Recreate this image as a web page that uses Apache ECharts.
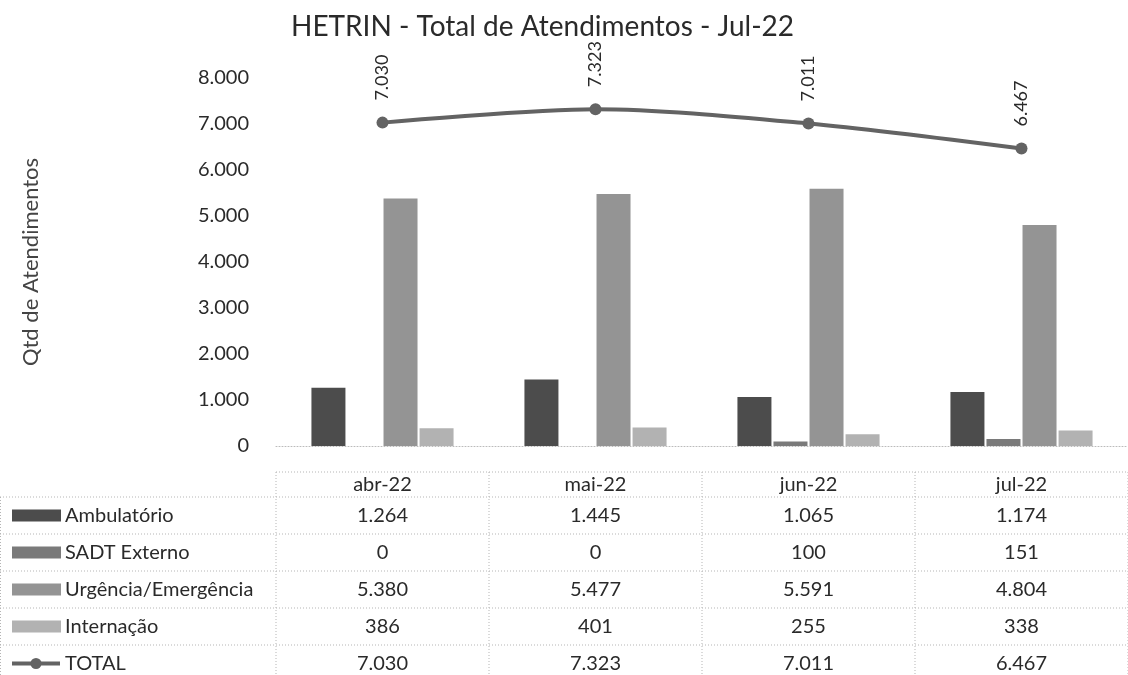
<!DOCTYPE html>
<html>
<head>
<meta charset="utf-8">
<script src="https://cdn.jsdelivr.net/npm/echarts@6/dist/echarts.min.js"></script>
<style>
  html, body { margin: 0; padding: 0; background: #fff; }
  #chart { width: 1128px; height: 675px; }
</style>
</head>
<body>
<div id="chart"></div>
<script>
// HETRIN - atendimentos por mês, barras + linha total, com tabela de dados embaixo
var categories = ["abr-22", "mai-22", "jun-22", "jul-22"];
var ambulatorio = [1264, 1445, 1065, 1174];
var sadtExterno = [0, 0, 100, 151];
var urgencia = [5380, 5477, 5591, 4804];
var internacao = [386, 401, 255, 338];
var total = [7030, 7323, 7011, 6467];
var yTicks = [0, 1000, 2000, 3000, 4000, 5000, 6000, 7000, 8000];

var FONT = "Lato, 'Noto Sans', sans-serif";

function fmt(v) {
  return String(v).replace(/\B(?=(\d{3})+(?!\d))/g, ".");
}

var seriesDefs = [
  { name: "Ambulatório", data: ambulatorio, color: "#4c4c4c" },
  { name: "SADT Externo", data: sadtExterno, color: "#7a7a7a" },
  { name: "Urgência/Emergência", data: urgencia, color: "#949494" },
  { name: "Internação", data: internacao, color: "#b2b2b2" }
];

var el = document.getElementById("chart");
var chart = echarts.init(el, null, { renderer: "canvas" });

var barSeries = seriesDefs.map(function (s) {
  return {
    name: s.name,
    type: "bar",
    data: s.data,
    barWidth: 34,
    barGap: "6%",
    itemStyle: { color: s.color },
    z: 2
  };
});

chart.setOption({
  backgroundColor: "#fff",
  animation: false,
  title: {
    text: "HETRIN - Total de Atendimentos - Jul-22",
    left: 286,
    top: 8,
    textStyle: { fontFamily: FONT, fontSize: 28, fontWeight: "normal", color: "#2a2a2a" }
  },
  grid: { left: 276, top: 78, width: 862, height: 368, containLabel: false },
  xAxis: {
    type: "category",
    data: categories,
    axisLine: { show: true, lineStyle: { color: "#bbb", type: [1, 2], width: 1 } },
    axisTick: { show: false },
    axisLabel: { show: false },
    splitLine: { show: false }
  },
  yAxis: {
    type: "value",
    min: yTicks[0],
    max: yTicks[yTicks.length - 1],
    interval: 1000,
    name: "Qtd de Atendimentos",
    nameLocation: "middle",
    nameGap: 234,
    nameTextStyle: { fontFamily: FONT, fontSize: 22, color: "#444" },
    axisLine: { show: false },
    axisTick: { show: false },
    splitLine: { show: false },
    axisLabel: {
      margin: 27,
      fontFamily: FONT,
      fontSize: 20,
      color: "#2a2a2a",
      formatter: function (v) { return fmt(v); }
    }
  },
  series: barSeries.concat([{
    name: "TOTAL",
    type: "line",
    data: total,
    smooth: 0.3,
    symbol: "circle",
    symbolSize: 12,
    lineStyle: { color: "#636363", width: 4 },
    itemStyle: { color: "#636363" },
    label: {
      show: true,
      position: "top",
      distance: 16,
      rotate: 90,
      align: "left",
      verticalAlign: "middle",
      fontFamily: FONT,
      fontSize: 18,
      color: "#2a2a2a",
      formatter: function (p) { return fmt(p.value); }
    },
    z: 5
  }])
});

// tabela de dados abaixo do gráfico
function buildTable() {
  var c0 = chart.convertToPixel({ xAxisIndex: 0 }, 0);
  var c1 = chart.convertToPixel({ xAxisIndex: 0 }, 1);
  var band = c1 - c0;
  var left = c0 - band / 2;
  var right = left + band * categories.length;
  var headTop = 472, headBot = 497, rowH = 37;
  var dash = [1, 2];
  var stroke = "#b5b5b5";
  var els = [];

  function hline(x1, x2, y) {
    els.push({ type: "line", shape: { x1: x1, y1: y, x2: x2, y2: y },
      style: { stroke: stroke, lineWidth: 1, lineDash: dash }, silent: true });
  }
  function vline(x, y1, y2) {
    els.push({ type: "line", shape: { x1: x, y1: y1, x2: x, y2: y2 },
      style: { stroke: stroke, lineWidth: 1, lineDash: dash }, silent: true });
  }
  function text(str, x, y, align) {
    els.push({ type: "text", x: x, y: y, silent: true,
      style: { text: str, fontFamily: FONT, fontSize: 20, fill: "#2a2a2a",
        align: align, verticalAlign: "middle" } });
  }

  var rows = seriesDefs.concat([{ name: "TOTAL", data: total, line: true }]);
  var bottom = headBot + rowH * rows.length;

  hline(left, right, headTop);
  hline(0, right, headBot);
  for (var r = 1; r <= rows.length; r++) hline(0, right, headBot + rowH * r);
  vline(0.5, headBot, bottom);
  for (var k = 0; k <= categories.length; k++) vline(left + band * k, headTop, bottom);

  categories.forEach(function (cat, i) {
    text(cat, c0 + band * i, (headTop + headBot) / 2, "center");
  });

  rows.forEach(function (row, r) {
    var yc = headBot + rowH * r + rowH / 2;
    if (row.line) {
      els.push({ type: "line", shape: { x1: 12, y1: yc, x2: 60, y2: yc },
        style: { stroke: "#636363", lineWidth: 4 }, silent: true });
      els.push({ type: "circle", shape: { cx: 36, cy: yc, r: 5.5 },
        style: { fill: "#636363" }, silent: true });
    } else {
      els.push({ type: "rect", shape: { x: 12, y: yc - 6, width: 49, height: 12 },
        style: { fill: row.color }, silent: true });
    }
    text(row.name, 65, yc, "left");
    row.data.forEach(function (v, i) {
      text(fmt(v), c0 + band * i, yc, "center");
    });
  });

  chart.setOption({ graphic: els });
}

buildTable();
</script>
</body>
</html>
